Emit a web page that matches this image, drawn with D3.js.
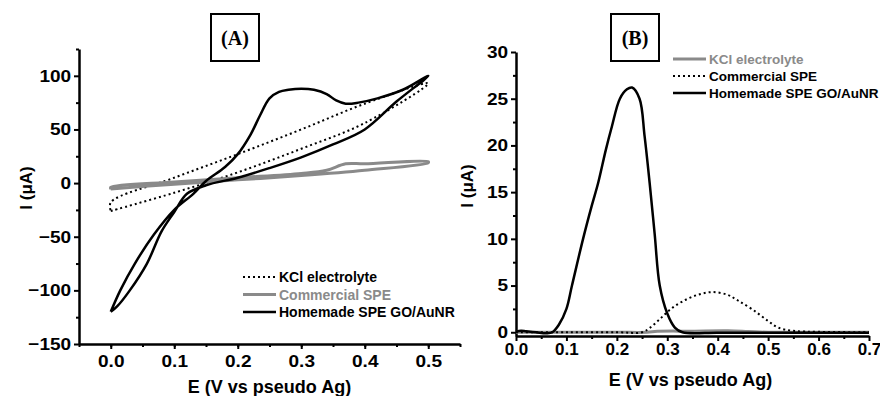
<!DOCTYPE html>
<html>
<head>
<meta charset="utf-8">
<script src="https://cdn.jsdelivr.net/npm/d3@7"></script>
<style>
  body { margin: 0; background: #fff; }
  text { font-family: "Liberation Sans", Arial, sans-serif; font-weight: bold; }
</style>
</head>
<body>
<div id="chart"></div>
<script>
// Panel A: cyclic voltammetry loops [E (V), I (uA)]
const cvKcl = [
  [0, -26], [0.1, -9], [0.2, 10], [0.3, 32], [0.4, 56], [0.5, 93],
  [0.4, 74], [0.3, 50], [0.2, 27], [0.1, 5], [0, -18], [0, -26]
];
const cvCommercial = [
  [0, -5.5], [0.1, -1], [0.2, 3], [0.3, 7], [0.4, 12], [0.5, 19],
  [0.5, 20], [0.4, 18], [0.37, 18], [0.34, 12], [0.3, 9], [0.2, 5], [0.1, 1], [0, -4], [0, -5.5]
];
const cvHomemade = [
  [0, -120], [0.015, -100], [0.038, -75], [0.068, -48], [0.1, -25], [0.13, -10], [0.15, 2],
  [0.18, 15], [0.2, 27], [0.22, 45], [0.235, 63], [0.25, 79], [0.265, 85], [0.28, 87],
  [0.3, 88], [0.32, 87], [0.34, 83], [0.355, 77], [0.37, 74], [0.39, 75], [0.42, 79],
  [0.46, 87], [0.5, 100],
  [0.45, 76], [0.4, 50], [0.35, 36], [0.3, 24], [0.25, 14], [0.2, 5], [0.15, -2],
  [0.12, -10], [0.1, -27], [0.08, -45], [0.057, -75], [0.03, -100], [0.01, -115], [0, -120]
];

// Panel B: differential pulse voltammetry [E (V), I (uA)]
const dpvKcl = [
  [0, 0], [0.1, 0], [0.2, 0], [0.26, 0], [0.28, 0.1], [0.35, 0.12], [0.42, 0.15],
  [0.46, 0.08], [0.5, 0], [0.6, 0], [0.7, 0]
];
const dpvCommercial = [
  [0, 0], [0.1, 0], [0.2, 0], [0.25, 0], [0.266, 0.5], [0.285, 1.4], [0.305, 2.4],
  [0.33, 3.3], [0.36, 4.0], [0.39, 4.3], [0.42, 4.0], [0.44, 3.4], [0.47, 2.4], [0.5, 1.2],
  [0.52, 0.5], [0.55, 0.15], [0.6, 0.05], [0.7, 0]
];
const dpvHomemade = [
  [0, 0.05], [0.01, 0.15], [0.02, 0.1], [0.04, 0], [0.06, -0.1], [0.072, 0], [0.085, 0.8],
  [0.1, 2.5], [0.111, 5], [0.133, 10], [0.15, 13.5], [0.163, 16], [0.178, 19.5], [0.19, 22],
  [0.206, 25], [0.22, 26], [0.23, 26.2], [0.245, 25], [0.255, 21], [0.265, 16], [0.275, 10.5],
  [0.285, 5], [0.3, 2], [0.315, 0.5], [0.33, 0], [0.4, -0.05], [0.5, -0.05], [0.6, -0.05], [0.7, -0.05]
];

const xTicksA = [0, 0.1, 0.2, 0.3, 0.4, 0.5];
const yTicksA = [-150, -100, -50, 0, 50, 100];
const xTicksB = [0, 0.1, 0.2, 0.3, 0.4, 0.5, 0.6, 0.7];
const yTicksB = [0, 5, 10, 15, 20, 25, 30];

const legendA = ["KCl electrolyte", "Commercial SPE", "Homemade SPE GO/AuNR"];
const legendB = ["KCl electrolyte", "Commercial SPE", "Homemade SPE GO/AuNR"];

const width = 880, height = 396;
const gray = "#8a8a8a";

const svg = d3.select("#chart").append("svg")
  .attr("width", width)
  .attr("height", height);

const styles = {
  dotted: { stroke: "#000", width: 2, dash: "2,3" },
  gray: { stroke: gray, width: 3, dash: null },
  solid: { stroke: "#000", width: 2.5, dash: null }
};

function drawPanel(p) {
  const x = d3.scaleLinear().domain(p.xDomain).range(p.xRange);
  const y = d3.scaleLinear().domain(p.yDomain).range(p.yRange);
  const g = svg.append("g");

  // minor ticks
  g.append("g")
    .attr("transform", `translate(0,${p.yRange[0]})`)
    .call(d3.axisBottom(x).tickValues(p.xMinor).tickSize(3).tickFormat(""))
    .call(a => a.select(".domain").remove());
  g.append("g")
    .attr("transform", `translate(${p.xRange[0]},0)`)
    .call(d3.axisLeft(y).tickValues(p.yMinor).tickSize(3).tickFormat(""))
    .call(a => a.select(".domain").remove());

  g.append("g")
    .attr("transform", `translate(0,${p.yRange[0]})`)
    .call(d3.axisBottom(x).tickValues(p.xTicks).tickSize(5).tickSizeOuter(0).tickPadding(p.xPad)
      .tickFormat(d3.format(".1f")))
    .selectAll(".tick text")
    .attr("transform", `scale(${p.xStretch},1)`);
  g.append("g")
    .attr("transform", `translate(${p.xRange[0]},0)`)
    .call(d3.axisLeft(y).tickValues(p.yTicks).tickSize(5).tickSizeOuter(0).tickPadding(2))
    .selectAll(".tick text")
    .attr("transform", "scale(1.12,1)");

  g.selectAll(".domain").attr("stroke-width", 2.5);
  g.selectAll(".tick line").attr("stroke-width", 2);
  g.selectAll(".tick text")
    .style("font-size", "17px")
    .style("font-weight", "bold")
    .style("font-family", "'Liberation Sans', Arial, sans-serif")
    .attr("fill", "#000");

  const line = d3.line().x(d => x(d[0])).y(d => y(d[1])).curve(d3.curveCatmullRom.alpha(0.5));
  p.series.forEach(s => {
    g.append("path")
      .datum(s.data)
      .attr("d", line)
      .attr("fill", "none")
      .attr("stroke", s.style.stroke)
      .attr("stroke-width", s.style.width)
      .attr("stroke-dasharray", s.style.dash)
      .attr("stroke-linejoin", "round");
  });

  // axis titles
  g.append("text")
    .attr("x", (p.xRange[0] + p.xRange[1]) / 2 + p.xTitleDx)
    .attr("y", p.xTitleY)
    .attr("text-anchor", "middle")
    .style("font-size", "18px")
    .text("E (V vs pseudo Ag)");
  g.append("text")
    .attr("transform", `translate(${p.yTitleX},${p.yTitleY}) rotate(-90)`)
    .attr("text-anchor", "middle")
    .style("font-size", "17px")
    .text("I (μA)");

  // boxed panel label
  g.append("rect")
    .attr("x", p.box[0]).attr("y", p.box[1])
    .attr("width", p.box[2]).attr("height", p.box[3])
    .attr("fill", "none").attr("stroke", "#000").attr("stroke-width", 2);
  g.append("text")
    .attr("x", p.box[0] + p.box[2] / 2)
    .attr("y", p.box[1] + p.box[3] / 2 + 7)
    .attr("text-anchor", "middle")
    .style("font-family", "'Liberation Serif', 'Times New Roman', serif")
    .style("font-size", "20px")
    .text(p.label);

  // legend
  const lg = g.append("g");
  p.series.forEach((s, i) => {
    const ly = p.legend[1] + i * p.legend[2];
    lg.append("line")
      .attr("x1", p.legend[0]).attr("x2", p.legend[0] + 33)
      .attr("y1", ly).attr("y2", ly)
      .attr("stroke", s.style.stroke)
      .attr("stroke-width", s.style.width)
      .attr("stroke-dasharray", s.style.dash);
    lg.append("text")
      .attr("x", p.legend[0] + 36)
      .attr("y", ly + 5)
      .style("font-size", p.legend[3] + "px")
      .attr("fill", s.style.stroke)
      .text(s.name);
  });
}

drawPanel({
  xDomain: [-0.05, 0.55], xRange: [79, 460],
  yDomain: [-150, 125], yRange: [344, 49],
  xTicks: xTicksA, yTicks: yTicksA, xPad: 6, xStretch: 1.12,
  xMinor: d3.range(-0.05, 0.56, 0.05), yMinor: d3.range(-125, 126, 50),
  series: [
    { name: legendA[0], data: cvKcl, style: styles.dotted },
    { name: legendA[1], data: cvCommercial, style: styles.gray },
    { name: legendA[2], data: cvHomemade, style: styles.solid }
  ],
  xTitleDx: 0, xTitleY: 393,
  yTitleX: 32, yTitleY: 188,
  box: [211, 14, 48, 47], label: "(A)",
  legend: [243, 277, 17.5, 14]
});

drawPanel({
  xDomain: [0, 0.7], xRange: [516, 869],
  yDomain: [-0.4, 30], yRange: [336, 52],
  xTicks: xTicksB, yTicks: yTicksB, xPad: 2, xStretch: 1.0,
  xMinor: d3.range(0.05, 0.7, 0.1), yMinor: d3.range(2.5, 30, 5),
  series: [
    { name: legendB[0], data: dpvKcl, style: styles.gray },
    { name: legendB[1], data: dpvCommercial, style: styles.dotted },
    { name: legendB[2], data: dpvHomemade, style: styles.solid }
  ],
  xTitleDx: -2, xTitleY: 386,
  yTitleX: 473, yTitleY: 186,
  box: [611, 14, 48, 47], label: "(B)",
  legend: [673, 59, 17, 13.5]
});
</script>
</body>
</html>
